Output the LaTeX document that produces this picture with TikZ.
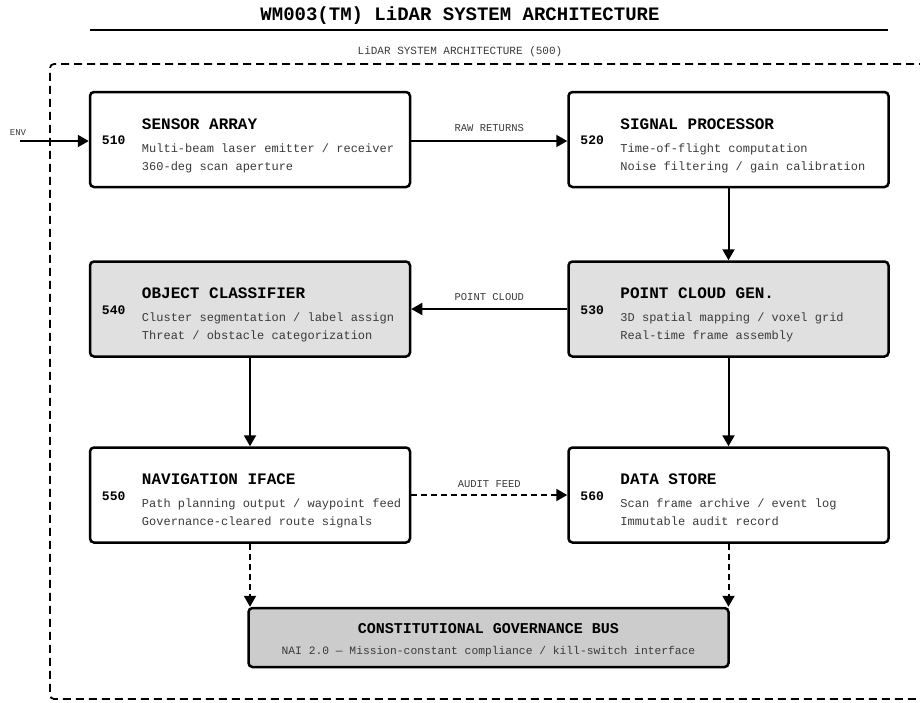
\documentclass[tikz,border=0pt]{standalone}
\usepackage{fontspec}
\setmainfont{Liberation Serif}
\setmonofont{Liberation Mono}
\newfontfamily\mono{Liberation Mono}
\usetikzlibrary{arrows.meta,calc}

\definecolor{bodygray}{HTML}{3A3A3A}
\definecolor{lightfill}{HTML}{E0E0E0}
\definecolor{busfill}{HTML}{CCCCCC}

\newcommand\fsz[1]{\fontsize{#1}{#1}\selectfont}

% number, heading and two description lines inside a block
\newcommand\blocktext[5]{%
  \node[numtxt, anchor=base west] (#1-num) at ($(#1.north west)+(13,54)$) {#2};
  \node[headtxt, anchor=base west] (#1-head) at ($(#1.north west)+(53,38.5)$) {#3};
  \node[desctxt, anchor=base west] (#1-l1) at ($(#1.north west)+(53,61.5)$) {#4};
  \node[desctxt, anchor=base west] (#1-l2) at ($(#1.north west)+(53,79.5)$) {#5};
}

\begin{document}
\begin{tikzpicture}[x=1pt,y=-1pt,
  block/.style={draw, line width=2.5, rounded corners=4, minimum width=320,
    minimum height=95, inner sep=0, fill=white},
  shaded/.style={block, fill=lightfill},
  numtxt/.style={font=\mono\bfseries\fsz{13}, inner sep=0},
  headtxt/.style={font=\mono\bfseries\fsz{16}, inner sep=0},
  desctxt/.style={font=\mono\fsz{12}, text=bodygray, inner sep=0},
  lbl/.style={font=\mono\fsz{10.5}, text=bodygray, inner sep=0},
  conn/.style={line width=2, -{Triangle[length=11pt,width=12pt]}},
  dconn/.style={conn, dash pattern=on 6pt off 4pt},
]
\useasboundingbox (0,0) rectangle (920,702);

% heading and rule
\node[font=\mono\bfseries\fsz{19}, inner sep=0] (title) at (460,16)
  {WM003(TM) LiDAR SYSTEM ARCHITECTURE};
\draw[line width=1.5] (90,30) -- (888,30);

% system boundary
\node[font=\mono\fsz{11}, text=bodygray, inner sep=0] (sys) at (460,52)
  {LiDAR SYSTEM ARCHITECTURE (500)};
\draw[line width=1.8, dash pattern=on 8pt off 5pt, rounded corners=4]
  (940,64) -- (50,64) -- (50,699) -- (940,699);

% blocks
\node[block]  (b510) at (250,139.5) {};
\node[block]  (b520) at (728.5,139.5) {};
\node[shaded] (b540) at (250,309) {};
\node[shaded] (b530) at (728.5,309) {};
\node[block]  (b550) at (250,495) {};
\node[block]  (b560) at (728.5,495) {};
\node[block, fill=busfill, minimum width=480, minimum height=59] (bus) at (488.5,637.5) {};

\blocktext{b510}{510}{SENSOR ARRAY}{Multi-beam laser emitter / receiver}{360-deg scan aperture}
\blocktext{b520}{520}{SIGNAL PROCESSOR}{Time-of-flight computation}{Noise filtering / gain calibration}
\blocktext{b540}{540}{OBJECT CLASSIFIER}{Cluster segmentation / label assign}{Threat / obstacle categorization}
\blocktext{b530}{530}{POINT CLOUD GEN.}{3D spatial mapping / voxel grid}{Real-time frame assembly}
\blocktext{b550}{550}{NAVIGATION IFACE}{Path planning output / waypoint feed}{Governance-cleared route signals}
\blocktext{b560}{560}{DATA STORE}{Scan frame archive / event log}{Immutable audit record}

\node[font=\mono\bfseries\fsz{15}, inner sep=0, anchor=base] (bus-head)
  at ($(bus.north)+(0,26.5)$) {CONSTITUTIONAL GOVERNANCE BUS};
\node[font=\mono\fsz{11.3}, text=bodygray, inner sep=0, anchor=base] (bus-l1)
  at ($(bus.north)+(0,47.5)$) {NAI 2.0 — Mission-constant compliance / kill-switch interface};

% external input
\coordinate (env) at (20,141);
\node[font=\mono\fsz{9}, text=bodygray, inner sep=0] (envlbl) at (18,133) {ENV};
\draw[conn] (env) -- (b510.west |- env);

% data flow
\draw[conn] (b510.east |- env) -- node[lbl, above=8pt] {RAW RETURNS} (b520.west |- env);
\draw[conn] (b520.south) -- (b530.north);
\draw[conn] (b530.west) -- node[lbl, above=7pt] {POINT CLOUD} (b540.east);
\draw[conn] (b540.south) -- (b550.north);
\draw[conn] (b530.south) -- (b560.north);
\draw[dconn] (b550.east) -- node[lbl, above=6pt] {AUDIT FEED} (b560.west);
\draw[dconn] (b550.south) -- (b550.south |- bus.north);
\draw[dconn] (b560.south) -- (b560.south |- bus.north);
\end{tikzpicture}
\end{document}
